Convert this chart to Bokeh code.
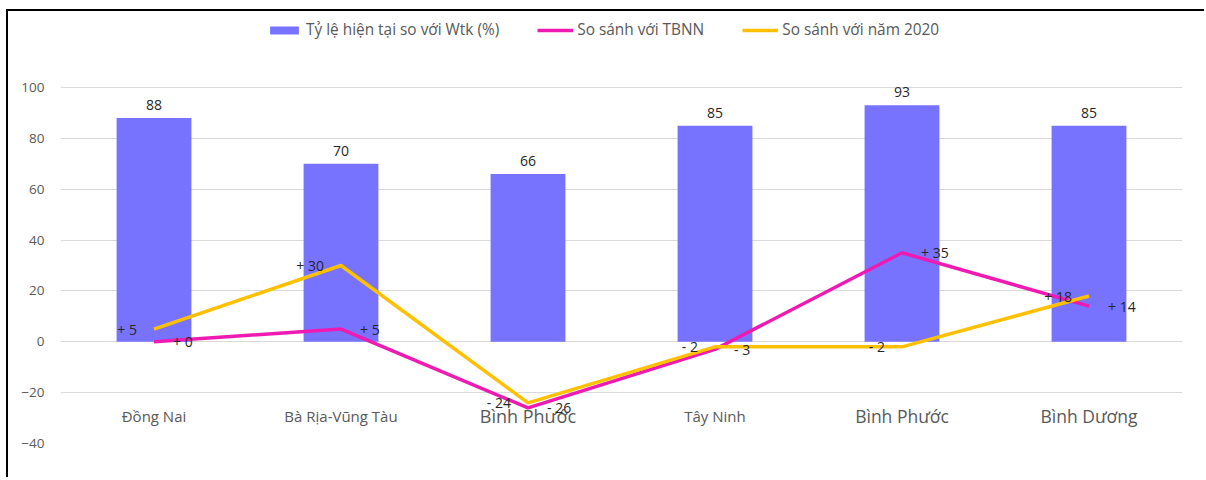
from bokeh.plotting import figure
from bokeh.models import ColumnDataSource, FixedTicker, Legend, LegendItem, Range1d
from bokeh.core.properties import value
from bokeh.embed import file_html
from bokeh.resources import INLINE

# ---- data ----
categories = ["Đồng Nai", "Bà Rịa-Vũng Tàu", "Bình Phước", "Tây Ninh", "Bình Phước", "Bình Dương"]
ty_le = [88, 70, 66, 85, 93, 85]          # Tỷ lệ hiện tại so với Wtk (%)
tbnn = [0, 5, -26, -3, 35, 14]            # So sánh với TBNN
nam2020 = [5, 30, -24, -2, -2, 18]        # So sánh với năm 2020
y_ticks = [-40, -20, 0, 20, 40, 60, 80, 100]

series_names = ["Tỷ lệ hiện tại so với Wtk (%)", "So sánh với TBNN", "So sánh với năm 2020"]

# ---- styles ----
cat_font_sizes = ["15px", "15px", "18px", "15px", "17.5px", "17.5px"]
FONT = "Open Sans"
BAR_C = "#7873FF"
PINK_C = "#EE1AB2"
GOLD_C = "#FFC000"
GREY = "#595959"

def fmt(v):
    return f"+ {v}" if v >= 0 else f"- {abs(v)}"

xs = list(range(len(categories)))
src = ColumnDataSource(dict(
    x=xs, cat=categories, ty_le=ty_le, tbnn=tbnn, nam2020=nam2020,
    ty_le_lbl=[str(v) for v in ty_le],
    tbnn_lbl=[fmt(v) for v in tbnn],
    nam_lbl=[fmt(v) for v in nam2020],
    cat_y=[-29] * len(categories),
    cat_size=cat_font_sizes,
))

# canvas starts at page (8, 11) after the frame border; plot frame page x 60..1182, y 18..443
p = figure(width=1198, height=468, output_backend="svg", toolbar_location=None,
           x_range=Range1d(-0.5, len(categories) - 0.5), y_range=Range1d(-40, 127.13),
           min_border_left=52, min_border_right=24, min_border_top=7, min_border_bottom=36)
p.styles = {"margin-left": "6px", "margin-top": "9px",
            "border-left": "2px solid black", "border-top": "2px solid black"}
p.outline_line_color = None
p.background_fill_color = "white"
p.border_fill_color = "white"

p.xaxis.visible = False
p.xgrid.visible = False
p.yaxis.ticker = FixedTicker(ticks=y_ticks)
p.yaxis.axis_line_color = None
p.yaxis.major_tick_line_color = None
p.yaxis.minor_tick_line_color = None
p.yaxis.major_label_text_font = FONT
p.yaxis.major_label_text_font_size = "13.5px"
p.yaxis.major_label_text_color = GREY
p.yaxis.major_label_standoff = 10
p.ygrid.grid_line_color = "#D9D9D9"
p.ygrid.grid_line_width = 1

# category labels (drawn beneath lines)
p.text(x="x", y="cat_y", text="cat", source=src, text_font=value(FONT),
       text_font_size="cat_size", text_color=GREY, text_align="center",
       text_baseline="middle")

bars = p.vbar(x="x", top="ty_le", bottom=0, width=0.4, source=src,
              fill_color=BAR_C, line_color=None)
l1 = p.line(x="x", y="tbnn", source=src, line_color=PINK_C, line_width=3.5)
l2 = p.line(x="x", y="nam2020", source=src, line_color=GOLD_C, line_width=3.5)

p.text(x="x", y="ty_le", text="ty_le_lbl", source=src, text_font=value(FONT),
       text_font_size="14px", text_color="#262626", text_align="center",
       text_baseline="bottom", y_offset=-8)
p.text(x="x", y="tbnn", text="tbnn_lbl", source=src, text_font=value(FONT),
       text_font_size="14px", text_color="#262626", text_align="left",
       text_baseline="middle", x_offset=19)
p.text(x="x", y="nam2020", text="nam_lbl", source=src, text_font=value(FONT),
       text_font_size="14px", text_color="#262626", text_align="right",
       text_baseline="middle", x_offset=-17)

legend = Legend(items=[
    LegendItem(label=series_names[0], renderers=[bars]),
    LegendItem(label=series_names[1], renderers=[l1]),
    LegendItem(label=series_names[2], renderers=[l2]),
], orientation="horizontal", location=(206, 403))
legend.label_text_font = FONT
legend.label_text_font_size = "15.4px"
legend.label_text_color = GREY
legend.glyph_width = 36
legend.glyph_height = 10
legend.label_height = 18
legend.label_standoff = 4
legend.spacing = 38
legend.padding = 0
legend.margin = 0
legend.border_line_color = None
legend.background_fill_alpha = 0
p.add_layout(legend)

open("out.html", "w").write(file_html(p, INLINE))
